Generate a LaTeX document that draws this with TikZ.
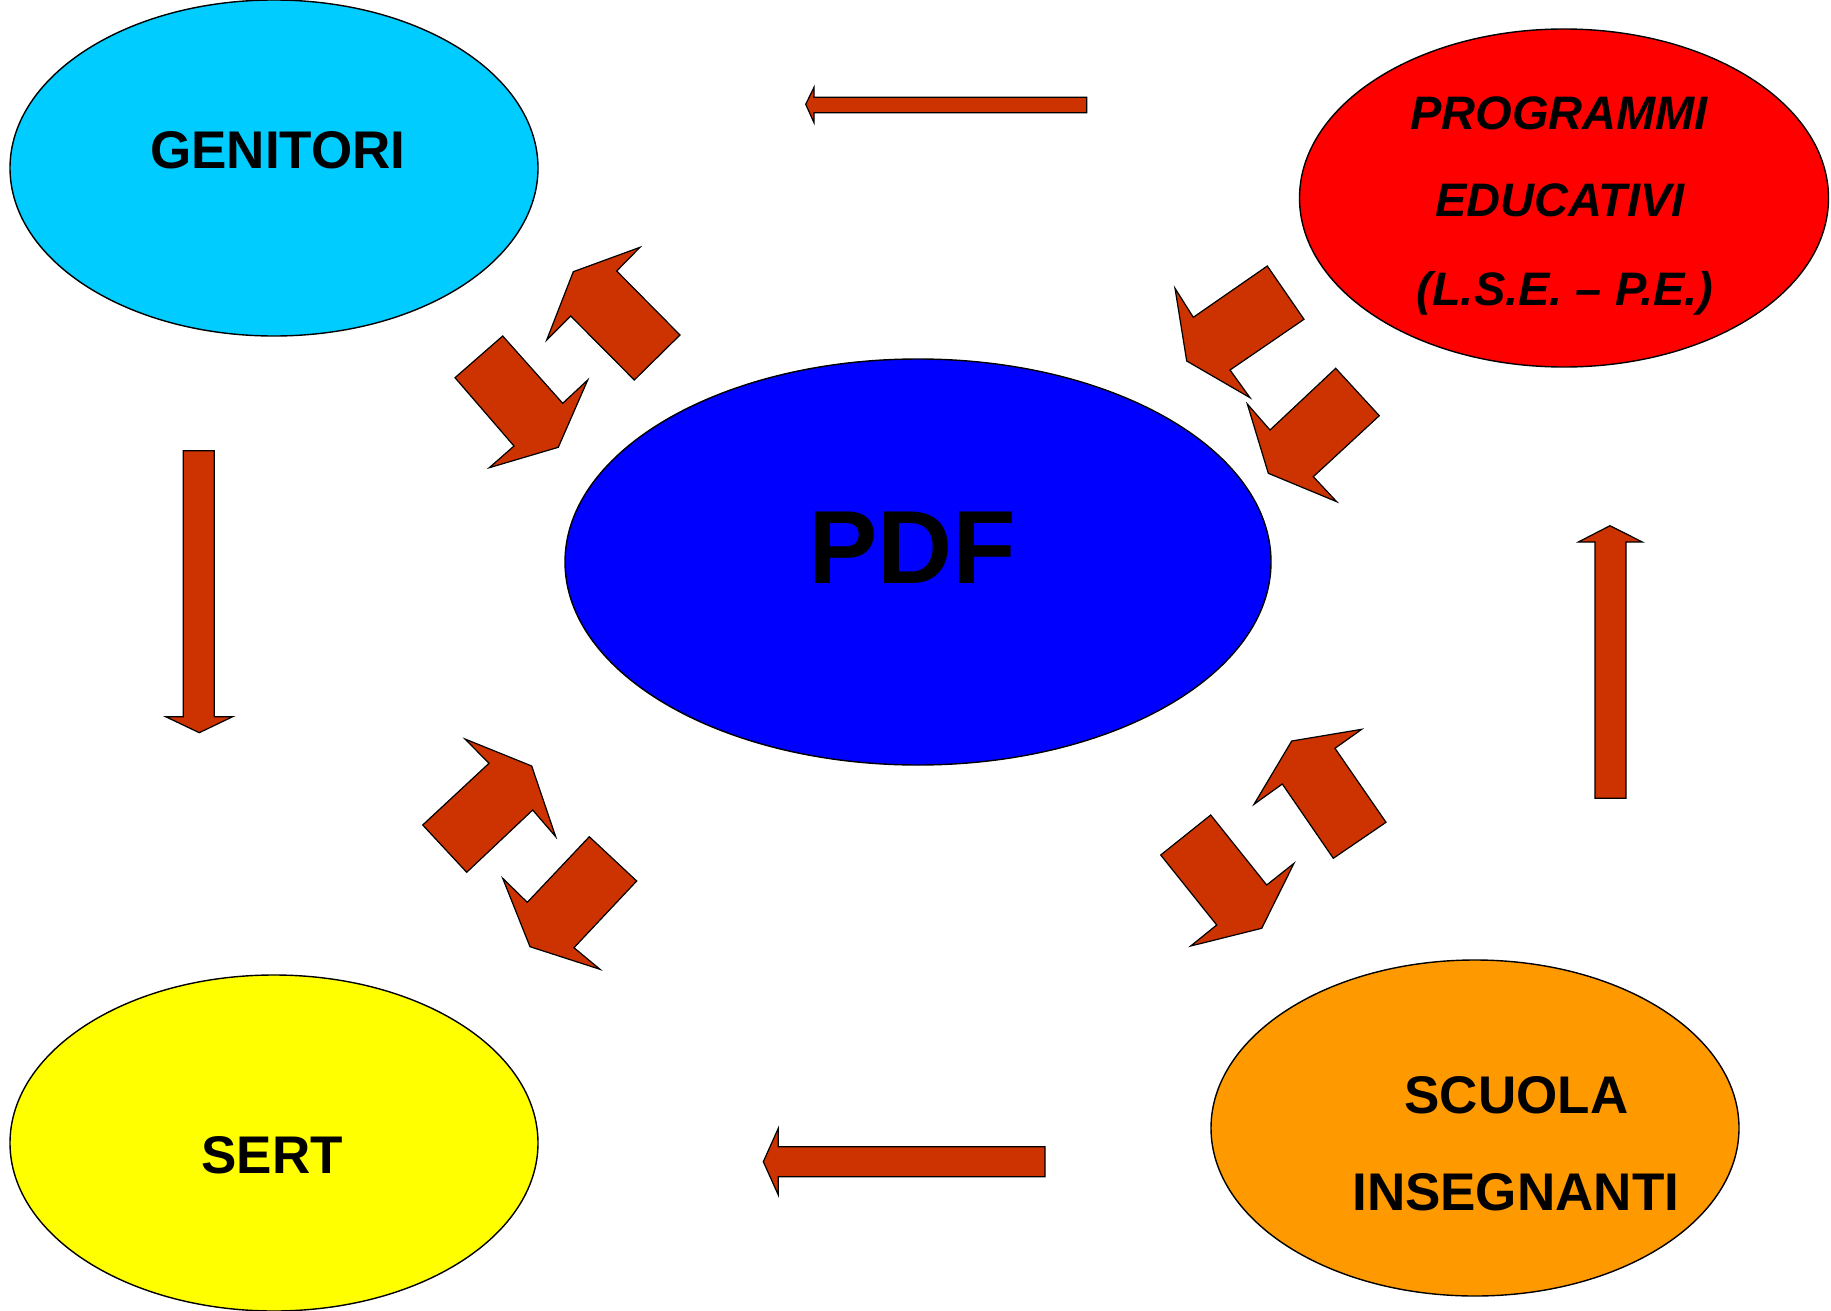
\documentclass[tikz,border=0pt]{standalone}
\usepackage{fontspec}
\setmainfont{Liberation Sans}
\usetikzlibrary{shapes.geometric}
\definecolor{arrowred}{HTML}{CC3300}
\definecolor{skyblue}{HTML}{00CCFF}
\definecolor{pdfblue}{HTML}{0000FF}
\definecolor{progred}{HTML}{FF0000}
\definecolor{sertyellow}{HTML}{FFFF00}
\definecolor{schoolorange}{HTML}{FF9900}
\tikzset{
  bubble/.style={ellipse, draw=black, line width=1.4pt, inner sep=0pt},
  blockarrow/.style={draw=black, fill=arrowred, line width=1.2pt, line join=miter},
  captxt/.style={anchor=base, inner sep=0pt, font=\bfseries\fontsize{#1}{#1}\selectfont}
}

\begin{document}
\begin{tikzpicture}[x=1pt, y=-1pt]
\useasboundingbox (0,0) rectangle (1831,1311);

% the five ellipses
\node[bubble, fill=skyblue, minimum width=528pt, minimum height=336pt] (genitori) at (274,168) {};
\node[bubble, fill=progred, minimum width=529pt, minimum height=338pt] (programmi) at (1564,198) {};
\node[bubble, fill=pdfblue, minimum width=706pt, minimum height=406pt] (pdf) at (918,562) {};
\node[bubble, fill=sertyellow, minimum width=528pt, minimum height=336pt] (sert) at (274,1143) {};
\node[bubble, fill=schoolorange, minimum width=528pt, minimum height=336pt] (scuola) at (1475,1128) {};

% their texts
\node[captxt=53] (genitoriTxt) at (278,168.3) {GENITORI};
\node[captxt=47] (progTxtA) at (1559,130) {\itshape PROGRAMMI};
\node[captxt=47] (progTxtB) at (1560,216.7) {\itshape EDUCATIVI};
\node[captxt=47] (progTxtC) at (1565,305) {\itshape (L.S.E. – P.E.)};
\node[captxt=104] (pdfTxt) at (912,583.3) {PDF};
\node[captxt=53] (sertTxt) at (272,1173) {SERT};
\node[captxt=53] (scuolaTxt) at (1516.5,1113.3) {SCUOLA};
\node[captxt=53] (insegnantiTxt) at (1515.7,1210) {INSEGNANTI};

% straight arrows round the outside
\draw[blockarrow] (1086.7,97.3) -- (814,97.3) -- (814,87.3) -- (805.7,104.3)
  -- (814,122.7) -- (814,112.7) -- (1086.7,112.7) -- cycle;
\draw[blockarrow] (1045,1146.7) -- (778.3,1146.7) -- (778.3,1128.3) -- (763.3,1161.7)
  -- (778.3,1195) -- (778.3,1176.7) -- (1045,1176.7) -- cycle;
\draw[blockarrow] (183.3,450.7) -- (183.3,716.7) -- (165.7,716.7) -- (199.3,732.7)
  -- (232.7,716.7) -- (214.3,716.7) -- (214.3,450.7) -- cycle;
\draw[blockarrow] (1595,798.3) -- (1595,542) -- (1578.3,542) -- (1610,525.7)
  -- (1642.3,542) -- (1626,542) -- (1626,798.3) -- cycle;

% bent arrows between PDF and GENITORI
\draw[blockarrow] (640,247.3) -- (573.3,271.7) -- (546.7,340) -- (570.7,316)
  -- (634.3,380) -- (680,335) -- (616.7,271) -- cycle;
\draw[blockarrow] (502.7,336) -- (455,377.7) -- (514,446) -- (489.3,467.7)
  -- (558.3,447.3) -- (587.7,380) -- (562.7,403.3) -- cycle;

% bent arrows between PROGRAMMI and PDF
\draw[blockarrow] (1267.3,266) -- (1304,319.3) -- (1230,370) -- (1250,397.7)
  -- (1186.7,361) -- (1175,288.3) -- (1193.3,317.3) -- cycle;
\draw[blockarrow] (1335.7,368.3) -- (1379.3,415.7) -- (1313.3,476.7) -- (1336.7,501.7)
  -- (1268.3,473.3) -- (1247.3,404) -- (1270,430) -- cycle;

% bent arrows between SERT and PDF
\draw[blockarrow] (465,739) -- (531.7,766) -- (555.7,836.7) -- (532.7,810)
  -- (466.7,872.3) -- (422.7,825) -- (489,763.3) -- cycle;
\draw[blockarrow] (589.3,836.7) -- (636.7,881) -- (574,947.7) -- (600,969.3)
  -- (530,946.7) -- (502.7,878.3) -- (527.3,902.3) -- cycle;

% bent arrows between PDF and SCUOLA
\draw[blockarrow] (1361.7,729.3) -- (1335,748.3) -- (1386,822.3) -- (1333.3,858.3)
  -- (1282.3,784) -- (1254,804.3) -- (1291.7,741) -- cycle;
\draw[blockarrow] (1210.7,815) -- (1160.7,855) -- (1216.7,925) -- (1190.7,946)
  -- (1261.7,928.3) -- (1294,863.3) -- (1266.7,885) -- cycle;
\end{tikzpicture}
\end{document}
